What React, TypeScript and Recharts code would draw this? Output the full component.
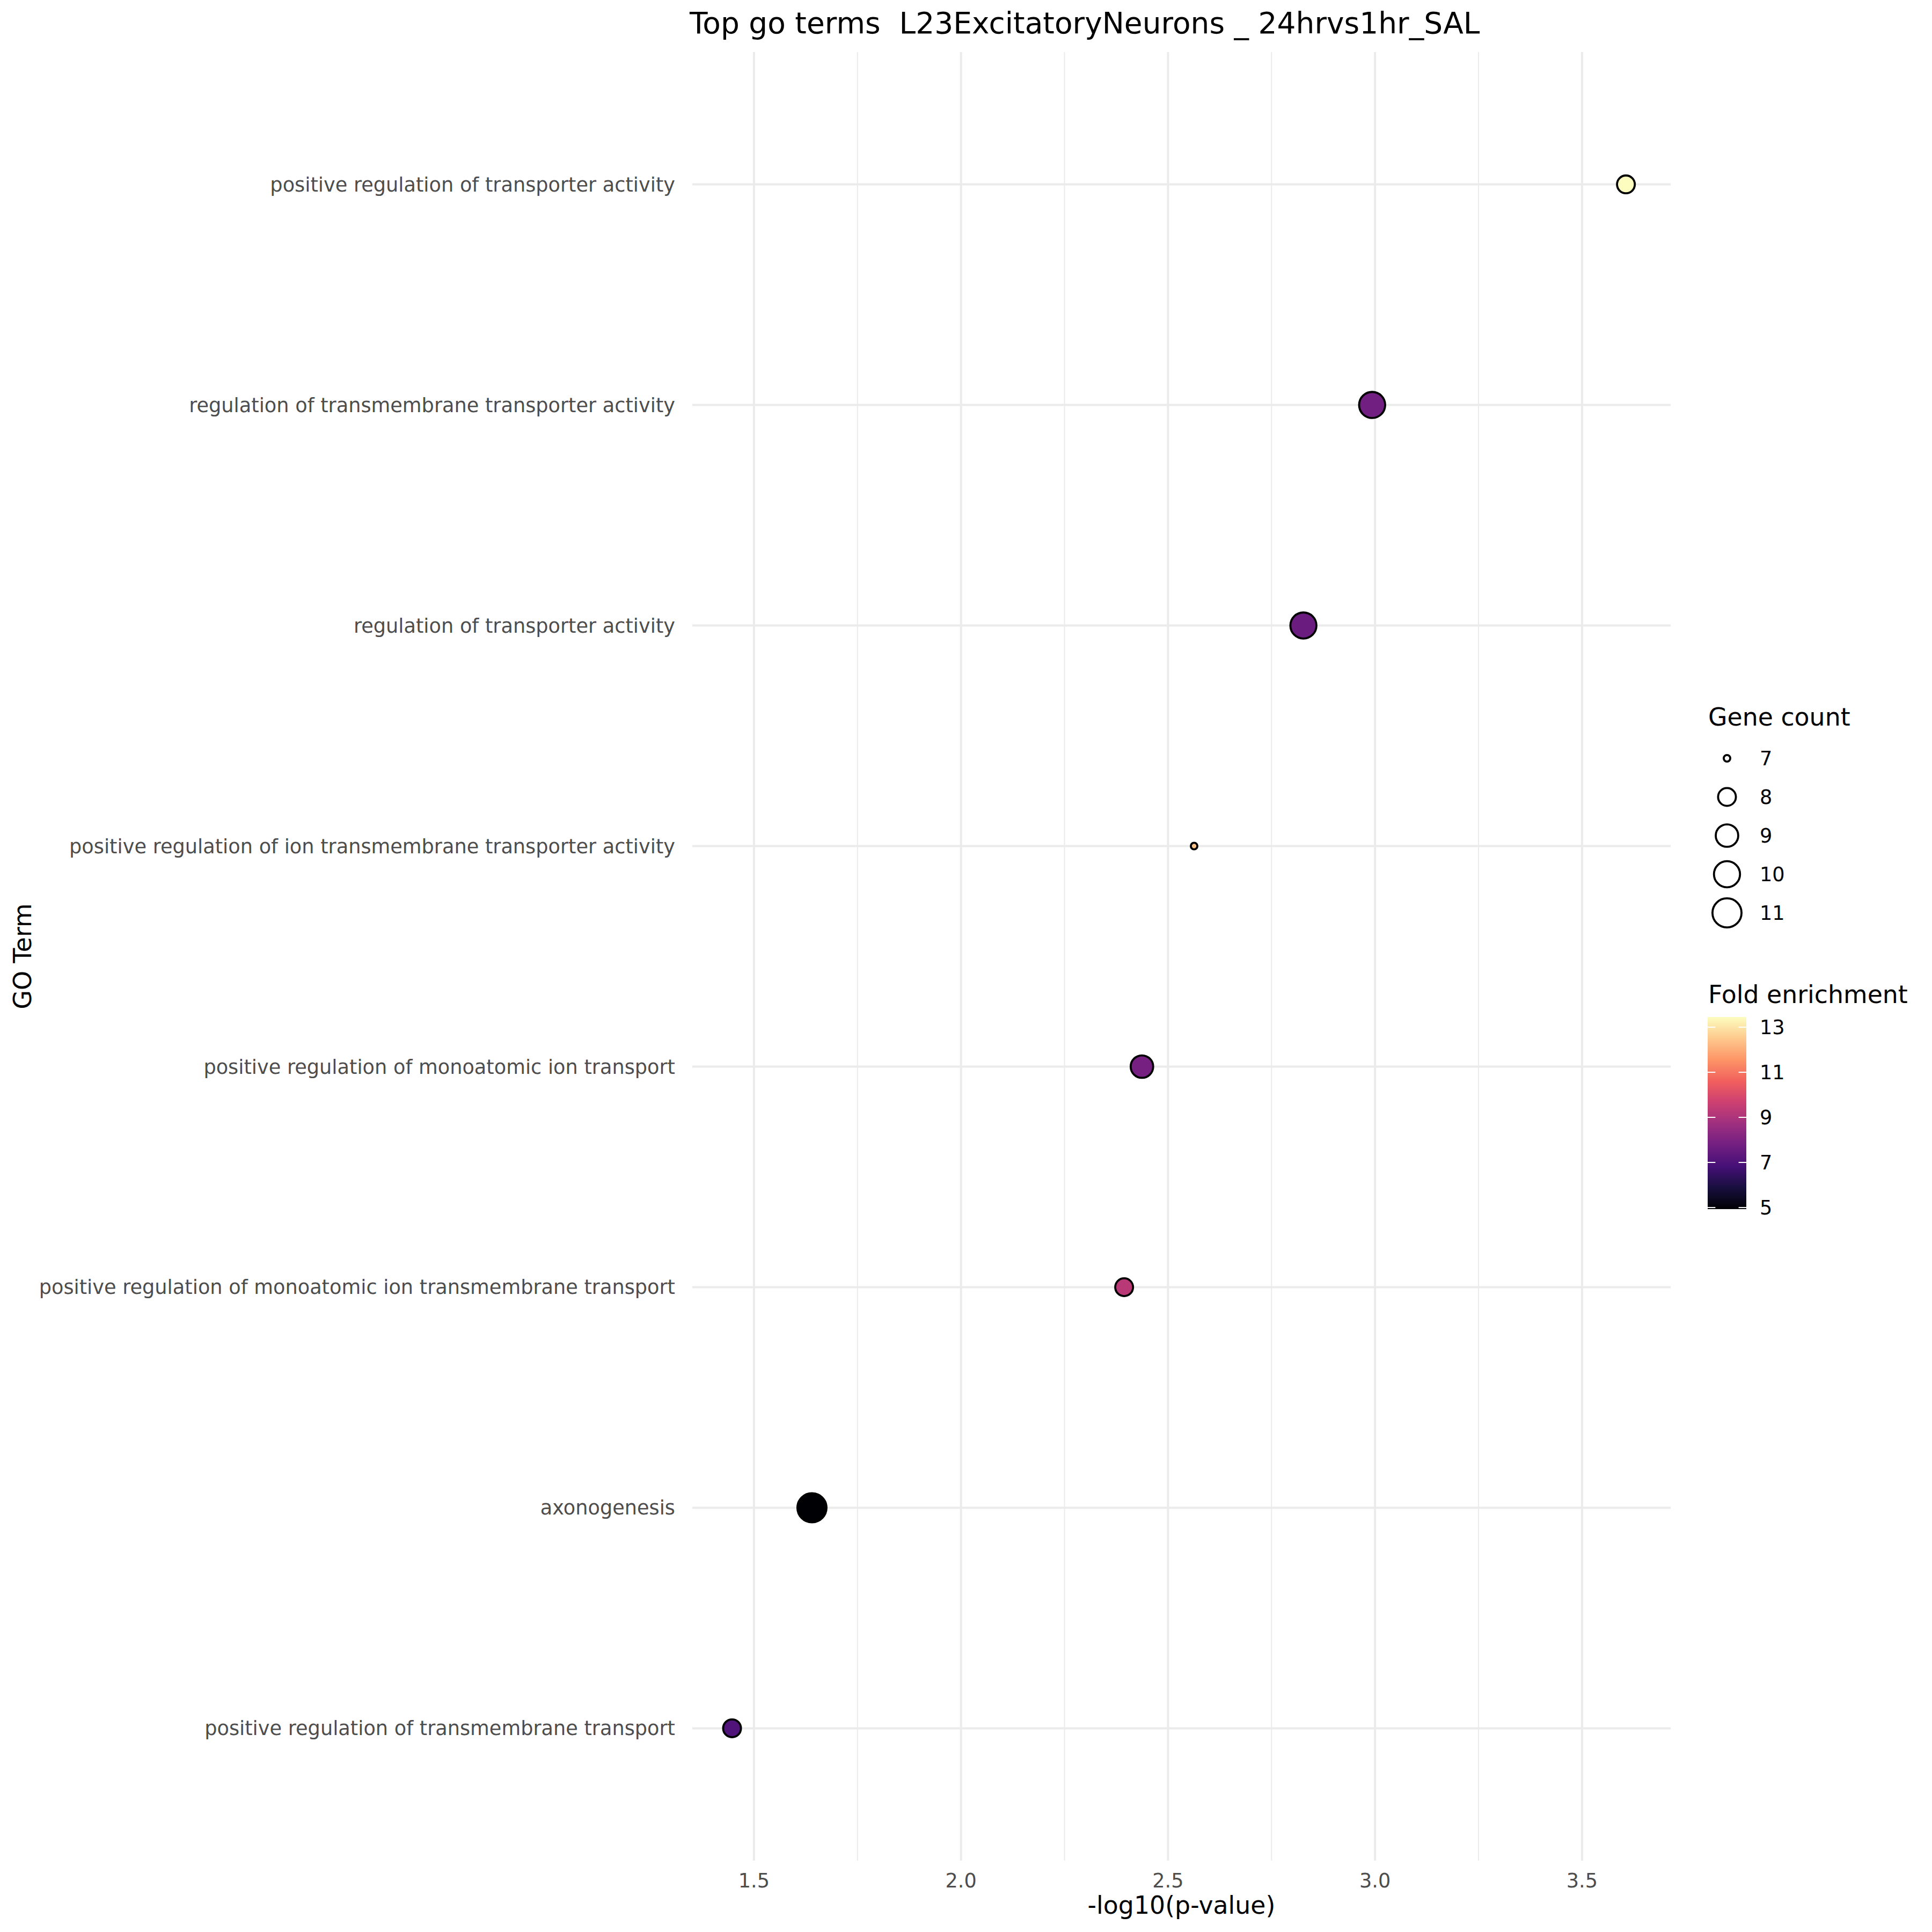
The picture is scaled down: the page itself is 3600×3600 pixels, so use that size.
import React from 'react';
import { ScatterChart, Scatter, XAxis, YAxis, ReferenceLine } from 'recharts';

// ---------- data ----------
const terms = [
  'positive regulation of transporter activity',
  'regulation of transmembrane transporter activity',
  'regulation of transporter activity',
  'positive regulation of ion transmembrane transporter activity',
  'positive regulation of monoatomic ion transport',
  'positive regulation of monoatomic ion transmembrane transport',
  'axonogenesis',
  'positive regulation of transmembrane transport',
];
const negLog10P = [3.606, 2.993, 2.827, 2.563, 2.437, 2.394, 1.64, 1.447];
const geneCount = [8, 10, 10, 7, 9, 8, 11, 8];
const foldEnrichment = [13.45, 7.75, 7.6, 12.37, 7.85, 9.25, 4.93, 7.03];

const xTicks = [1.5, 2.0, 2.5, 3.0, 3.5];
const xMinorTicks = [1.75, 2.25, 2.75, 3.25];
const sizeLegendValues = [7, 8, 9, 10, 11];
const colorLegendValues = [5, 7, 9, 11, 13];

const titleText = 'Top go terms  L23ExcitatoryNeurons _ 24hrvs1hr_SAL';
const xLabel = '-log10(p-value)';
const yLabel = 'GO Term';
const sizeTitle = 'Gene count';
const colorTitle = 'Fold enrichment';

// ---------- style ----------
const FONT = 'DejaVu Sans, sans-serif';
const W = 3600;
const H = 3600;
const PANEL = { left: 1290, right: 3113, top: 97, bottom: 3467 };
const X_DOMAIN: [number, number] = [1.351, 3.714];
const Y_DOMAIN: [number, number] = [0.4, 8.6];
const STROKE = 3.8;
const GRID = '#EBEBEB';

const MAGMA = ['#000004', '#180F3E', '#451077', '#721F81', '#9F2F7F', '#CD4071', '#F1605D', '#FD9567', '#FEC98D', '#FCFDBF'];

const feMin = Math.min(...foldEnrichment);
const feMax = Math.max(...foldEnrichment);
const gcMin = Math.min(...geneCount);
const gcMax = Math.max(...geneCount);

function hex2rgb(h: string) {
  return [parseInt(h.slice(1, 3), 16), parseInt(h.slice(3, 5), 16), parseInt(h.slice(5, 7), 16)];
}
function magma(t: number) {
  const tt = Math.max(0, Math.min(1, t));
  const p = tt * (MAGMA.length - 1);
  const i = Math.min(MAGMA.length - 2, Math.floor(p));
  const f = p - i;
  const a = hex2rgb(MAGMA[i]);
  const b = hex2rgb(MAGMA[i + 1]);
  const c = a.map((v, k) => Math.round(v + (b[k] - v) * f));
  return `rgb(${c[0]},${c[1]},${c[2]})`;
}
function feColor(fe: number) {
  return magma((fe - feMin) / (feMax - feMin));
}
function radiusFor(count: number) {
  const d = 16 + 42 * Math.sqrt((count - gcMin) / (gcMax - gcMin));
  return (d - STROKE) / 2;
}

const data = terms.map((term, i) => ({
  term,
  x: negLog10P[i],
  y: terms.length - i,
  count: geneCount[i],
  fe: foldEnrichment[i],
}));

const yTicks = data.map((d) => d.y).sort((a, b) => a - b);

const PointShape = (props: any) => {
  const { cx, cy, payload } = props;
  if (cx == null || cy == null) return null;
  return (
    <circle cx={cx} cy={cy} r={radiusFor(payload.count)} fill={feColor(payload.fe)} stroke="#000000" strokeWidth={STROKE} />
  );
};

const YTick = (props: any) => {
  const { x, y, payload } = props;
  const label = terms[terms.length - payload.value];
  return (
    <text x={x} y={y} dy="0.355em" textAnchor="end" fill="#4D4D4D" fontSize={36.7} fontFamily={FONT}>
      {label}
    </text>
  );
};

const XTick = (props: any) => {
  const { x, y, payload } = props;
  return (
    <text x={x} y={y} dy="0.71em" textAnchor="middle" fill="#4D4D4D" fontSize={36.7} fontFamily={FONT}>
      {Number(payload.value).toFixed(1)}
    </text>
  );
};

const LEG_X = 3183;
const KEY_X = 3218;
const LAB_X = 3279;
const KEY_Y0 = 1413;
const KEY_DY = 72;
const BAR = { x: 3182, w: 72, top: 1895, bottom: 2253 };

function barY(v: number) {
  return BAR.bottom - ((v - feMin) / (feMax - feMin)) * (BAR.bottom - BAR.top);
}

export default function App() {
  const panelCx = (PANEL.left + PANEL.right) / 2;
  const panelCy = (PANEL.top + PANEL.bottom) / 2;
  return (
    <div style={{ position: 'absolute', left: 0, top: 0, width: W, height: H, background: '#ffffff' }}>
      <ScatterChart
        width={W}
        height={H}
        margin={{ top: PANEL.top, right: W - PANEL.right, bottom: 0, left: 0 }}
      >
        {xMinorTicks.map((v) => (
          <ReferenceLine key={`mn${v}`} x={v} stroke={GRID} strokeWidth={2} ifOverflow="hidden" />
        ))}
        {xTicks.map((v) => (
          <ReferenceLine key={`mx${v}`} x={v} stroke={GRID} strokeWidth={4} ifOverflow="hidden" />
        ))}
        {yTicks.map((v) => (
          <ReferenceLine key={`my${v}`} y={v} stroke={GRID} strokeWidth={4} ifOverflow="hidden" />
        ))}
        <XAxis
          type="number"
          dataKey="x"
          domain={X_DOMAIN}
          ticks={xTicks}
          allowDataOverflow
          interval={0}
          axisLine={false}
          tickLine={false}
          tickSize={0}
          tickMargin={24}
          height={H - PANEL.bottom}
          tick={<XTick />}
        />
        <YAxis
          type="number"
          dataKey="y"
          domain={Y_DOMAIN}
          ticks={yTicks}
          allowDataOverflow
          interval={0}
          axisLine={false}
          tickLine={false}
          tickSize={0}
          tickMargin={32}
          width={PANEL.left}
          tick={<YTick />}
        />
        <Scatter data={data} isAnimationActive={false} shape={<PointShape />} />
      </ScatterChart>

      <svg
        width={W}
        height={H}
        style={{ position: 'absolute', left: 0, top: 0, pointerEvents: 'none' }}
      >
        <defs>
          <linearGradient id="magmaGrad" x1="0" y1="1" x2="0" y2="0">
            {MAGMA.map((c, i) => (
              <stop key={i} offset={i / (MAGMA.length - 1)} stopColor={c} />
            ))}
          </linearGradient>
        </defs>
        <text x={1285} y={62} fontSize={55} fontFamily={FONT} fill="#000000" style={{ whiteSpace: 'pre' }}>
          {titleText}
        </text>
        <text x={panelCx} y={3566} fontSize={45.8} fontFamily={FONT} fill="#000000" textAnchor="middle">
          {xLabel}
        </text>
        <text
          x={58}
          y={panelCy}
          fontSize={45.8}
          fontFamily={FONT}
          fill="#000000"
          textAnchor="middle"
          transform={`rotate(-90 58 ${panelCy})`}
        >
          {yLabel}
        </text>

        {/* size legend */}
        <text x={LEG_X} y={1352} fontSize={45.8} fontFamily={FONT} fill="#000000">
          {sizeTitle}
        </text>
        {sizeLegendValues.map((v, i) => (
          <g key={v}>
            <circle cx={KEY_X} cy={KEY_Y0 + i * KEY_DY} r={radiusFor(v)} fill="none" stroke="#000000" strokeWidth={STROKE} />
            <text x={LAB_X} y={KEY_Y0 + i * KEY_DY} dy="0.355em" fontSize={36.7} fontFamily={FONT} fill="#000000">
              {v}
            </text>
          </g>
        ))}

        {/* colour legend */}
        <text x={LEG_X} y={1869} fontSize={45.8} fontFamily={FONT} fill="#000000">
          {colorTitle}
        </text>
        <rect x={BAR.x} y={BAR.top} width={BAR.w} height={BAR.bottom - BAR.top} fill="url(#magmaGrad)" />
        {colorLegendValues.map((v) => (
          <g key={v}>
            <line x1={BAR.x} x2={BAR.x + BAR.w / 5} y1={barY(v)} y2={barY(v)} stroke="#ffffff" strokeWidth={2} />
            <line x1={BAR.x + BAR.w} x2={BAR.x + BAR.w - BAR.w / 5} y1={barY(v)} y2={barY(v)} stroke="#ffffff" strokeWidth={2} />
            <text x={LAB_X} y={barY(v)} dy="0.355em" fontSize={36.7} fontFamily={FONT} fill="#000000">
              {v}
            </text>
          </g>
        ))}
      </svg>
    </div>
  );
}
